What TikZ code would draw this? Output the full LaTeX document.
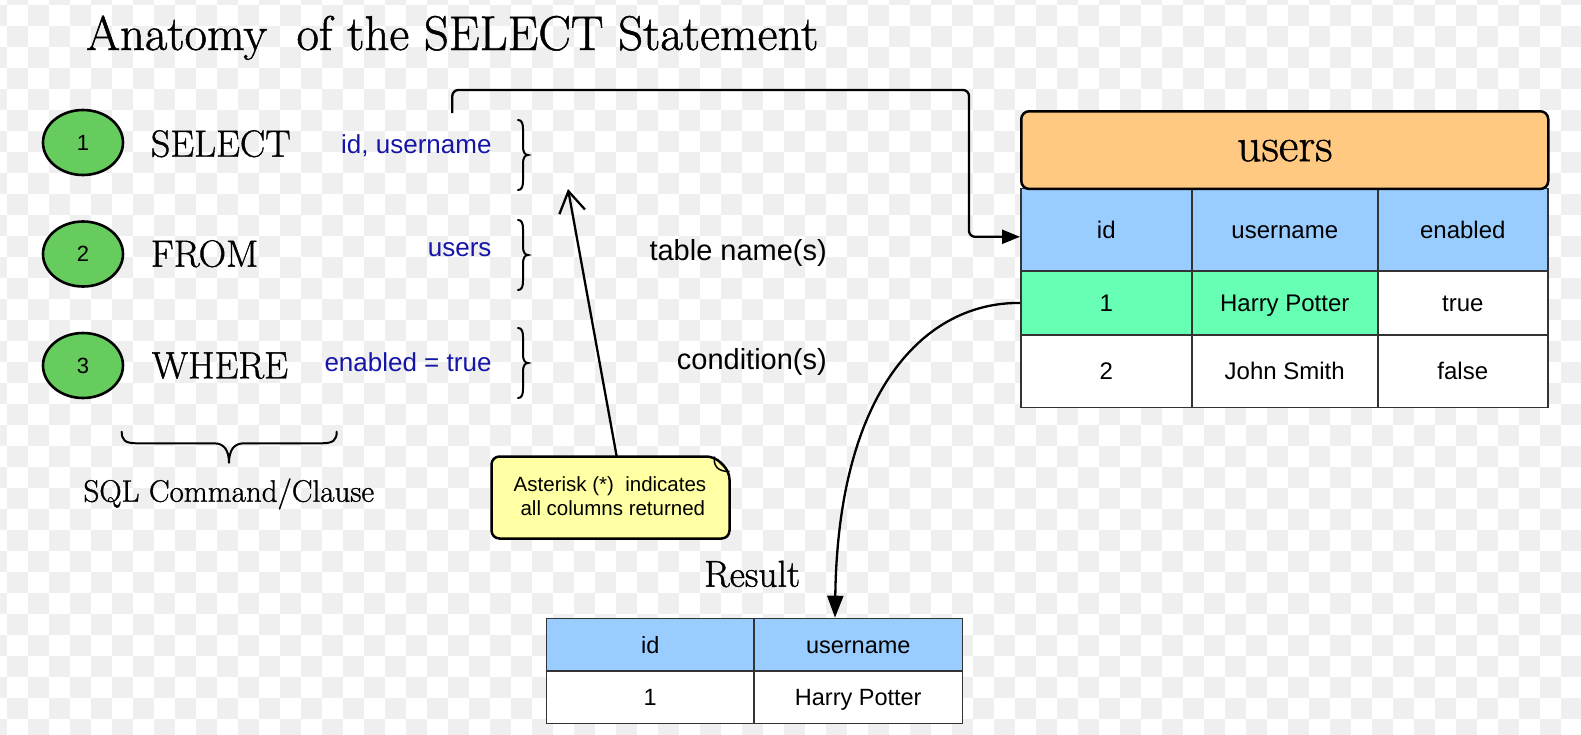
\documentclass[tikz,border=0pt]{standalone}
\usepackage{fontspec}
\newfontfamily\arialf{Liberation Sans}
\newfontfamily\serifm{Latin Modern Roman}[FakeBold=1.0]
\usetikzlibrary{arrows.meta,calc,shapes.geometric}
\definecolor{checker}{HTML}{EFEFEF}
\definecolor{ellgreen}{HTML}{66CC5E}
\definecolor{hdrblue}{HTML}{99CCFF}
\definecolor{mint}{HTML}{66FFB3}
\definecolor{noteyellow}{HTML}{FFFFA3}
\definecolor{orangehdr}{HTML}{FFC982}
\definecolor{argblue}{HTML}{1515A8}
\definecolor{gridline}{HTML}{333333}
\begin{document}
\begin{tikzpicture}[x=1pt,y=-1pt,
  numell/.style={ellipse, draw=black, line width=2.6pt, fill=ellgreen, minimum width=80pt, minimum height=65pt, inner sep=0pt, font=\arialf\fontsize{22}{26}\selectfont},
  cmd/.style={anchor=base west, inner sep=0pt, font=\serifm\fontsize{38}{44}\selectfont},
  arg/.style={anchor=base east, inner sep=0pt, text=argblue, font=\arialf\fontsize{26}{31}\selectfont},
  lbl/.style={anchor=base east, inner sep=0pt, font=\arialf\fontsize{29}{35}\selectfont},
  cell/.style={draw=gridline, line width=1.5pt, anchor=north west, inner sep=0pt, font=\arialf\fontsize{24}{29}\selectfont, text height=17pt, text depth=0pt},
  bracestyle/.style={draw=black, line width=2pt, line cap=round},
  conn/.style={draw=black, line width=2.3pt}
]
\useasboundingbox (0,0) rectangle (1581,734);
\fill[white] (0,0) rectangle (1581,734);
\foreach \i in {-1,...,74} {\foreach \j in {-1,...,34} {%
  \pgfmathtruncatemacro\k{\i+\j+2}%
  \ifodd\k \fill[checker] ({7+21*\i},{5+21*\j}) rectangle ++(21,21);\fi}}

% title
\node[anchor=base west, inner sep=0pt, font=\serifm\fontsize{48.8}{56}\selectfont] (title) at (86,50) {Anatomy\ \ of the SELECT Statement};

% numbered clauses
\node[numell] (n1) at (83,142.5) {1};
\node[numell] (n2) at (83,254) {2};
\node[numell] (n3) at (83,365.5) {3};
\node[cmd] (cmd1) at (150.7,156.7) {SELECT};
\node[cmd] (cmd2) at (150.7,266.7) {FROM};
\node[cmd] (cmd3) at (151.7,378.3) {WHERE};
\node[arg] (arg1) at (491.7,153.3) {id, username};
\node[arg] (arg2) at (491.7,256.7) {users};
\node[arg] (arg3) at (491.7,371.7) {enabled = true};

% right braces
\foreach \T in {120,220,328} {
  \draw[bracestyle] (518,\T) .. controls (521.5,\T) and (523,\T+3) .. (523,\T+9) -- (523,\T+27)
    .. controls (523,\T+32) and (525,\T+35) .. (528,\T+35)
    .. controls (525,\T+35) and (523,\T+38) .. (523,\T+43) -- (523,\T+61)
    .. controls (523,\T+67) and (521.5,\T+70) .. (518,\T+70);
}
\node[lbl] (tn) at (827,260) {table name(s)};
\node[lbl] (cond) at (827,369) {condition(s)};

% bottom brace
\draw[bracestyle] (121.7,431.7) .. controls (121.7,440) and (125,443.3) .. (136.7,443.3) -- (214,443.3)
  .. controls (224,443.3) and (229,450) .. (229,463.3)
  .. controls (229,450) and (234,443.3) .. (244,443.3) -- (321.7,443.3)
  .. controls (333.4,443.3) and (336.7,440) .. (336.7,431.7);
\node[anchor=base west, inner sep=0pt, font=\serifm\fontsize{31}{36}\selectfont] (sqlcc) at (83.3,501.7) {SQL Command/Clause};

% note
\node[inner sep=0pt, minimum width=237.6pt, minimum height=81.6pt] (note) at (610.5,497.5) {};
\draw[line width=2.5pt, fill=noteyellow, rounded corners=8pt] (note.north west) -- ([xshift=-15pt]note.north east) -- ([yshift=-15pt]note.north east) -- (note.south east) -- (note.south west) -- cycle;
\draw[line width=1.5pt] ([xshift=-15pt]note.north east) .. controls (713,466) and (718,471.7) .. ([yshift=-15pt]note.north east);
\node[inner sep=0pt, align=center, font=\arialf\fontsize{20.5}{24.5}\selectfont] (notetext) at (610,496) {Asterisk (*)\ \ indicates\\ \ all columns returned};
\coordinate (colstar) at (568,189);
\draw[conn, -{Straight Barb[length=21pt,width=26pt]}] ([xshift=6.2pt]note.north) -- (colstar);

% users table
\node[cell, fill=hdrblue, minimum width=171pt, minimum height=82.7pt] (hid) at (1020,187.7) {id};
\node[cell, fill=hdrblue, minimum width=186pt, minimum height=82.7pt] (huser) at (1191,187.7) {username};
\node[cell, fill=hdrblue, minimum width=170pt, minimum height=82.7pt] (hen) at (1377,187.7) {enabled};
\node[cell, fill=mint, minimum width=171pt, minimum height=63.6pt] (c1id) at (1020,270.4) {1};
\node[cell, fill=mint, minimum width=186pt, minimum height=63.6pt] (c1user) at (1191,270.4) {Harry Potter};
\node[cell, fill=white, minimum width=170pt, minimum height=63.6pt] (c1en) at (1377,270.4) {true};
\node[cell, fill=white, minimum width=171pt, minimum height=72.6pt] (c2id) at (1020,334) {2};
\node[cell, fill=white, minimum width=186pt, minimum height=72.6pt] (c2user) at (1191,334) {John Smith};
\node[cell, fill=white, minimum width=170pt, minimum height=72.6pt] (c2en) at (1377,334) {false};
\node[draw=black, line width=2.5pt, fill=orangehdr, rounded corners=8pt, minimum width=527pt, minimum height=77.7pt, anchor=north west, inner sep=0pt, text height=22pt, text depth=0pt, font=\serifm\fontsize{48}{54}\selectfont] (uhdr) at (1020,110) {users};

% result
\node[anchor=base west, inner sep=0pt, font=\serifm\fontsize{37.5}{42}\selectfont] (reslbl) at (704,586.7) {Result};
\node[cell, fill=hdrblue, minimum width=207.6pt, minimum height=52.3pt, font=\arialf\fontsize{23.5}{28}\selectfont] (rid) at (545.7,617.7) {id};
\node[cell, fill=hdrblue, minimum width=208.4pt, minimum height=52.3pt, font=\arialf\fontsize{23.5}{28}\selectfont] (ruser) at (753.3,617.7) {username};
\node[cell, fill=white, minimum width=207.6pt, minimum height=52.7pt, font=\arialf\fontsize{23.5}{28}\selectfont] (r1id) at (545.7,670) {1};
\node[cell, fill=white, minimum width=208.4pt, minimum height=52.7pt, font=\arialf\fontsize{23.5}{28}\selectfont] (r1user) at (753.3,670) {Harry Potter};

% connectors
\coordinate (selout) at (452.3,113);
\coordinate (bend) at (969,90);
\coordinate (tblin) at ($(hid.west)+(0,7)$);
\draw[conn, rounded corners=6pt, -{Triangle[length=18pt,width=14pt]}] (selout) |- (bend) |- (tblin);
\coordinate (resin) at (835,617.7);
\draw[conn, -{Triangle[length=22pt,width=16pt]}] (c1id.west) .. controls (925,302) and (838,390) .. (resin);
\end{tikzpicture}
\end{document}
